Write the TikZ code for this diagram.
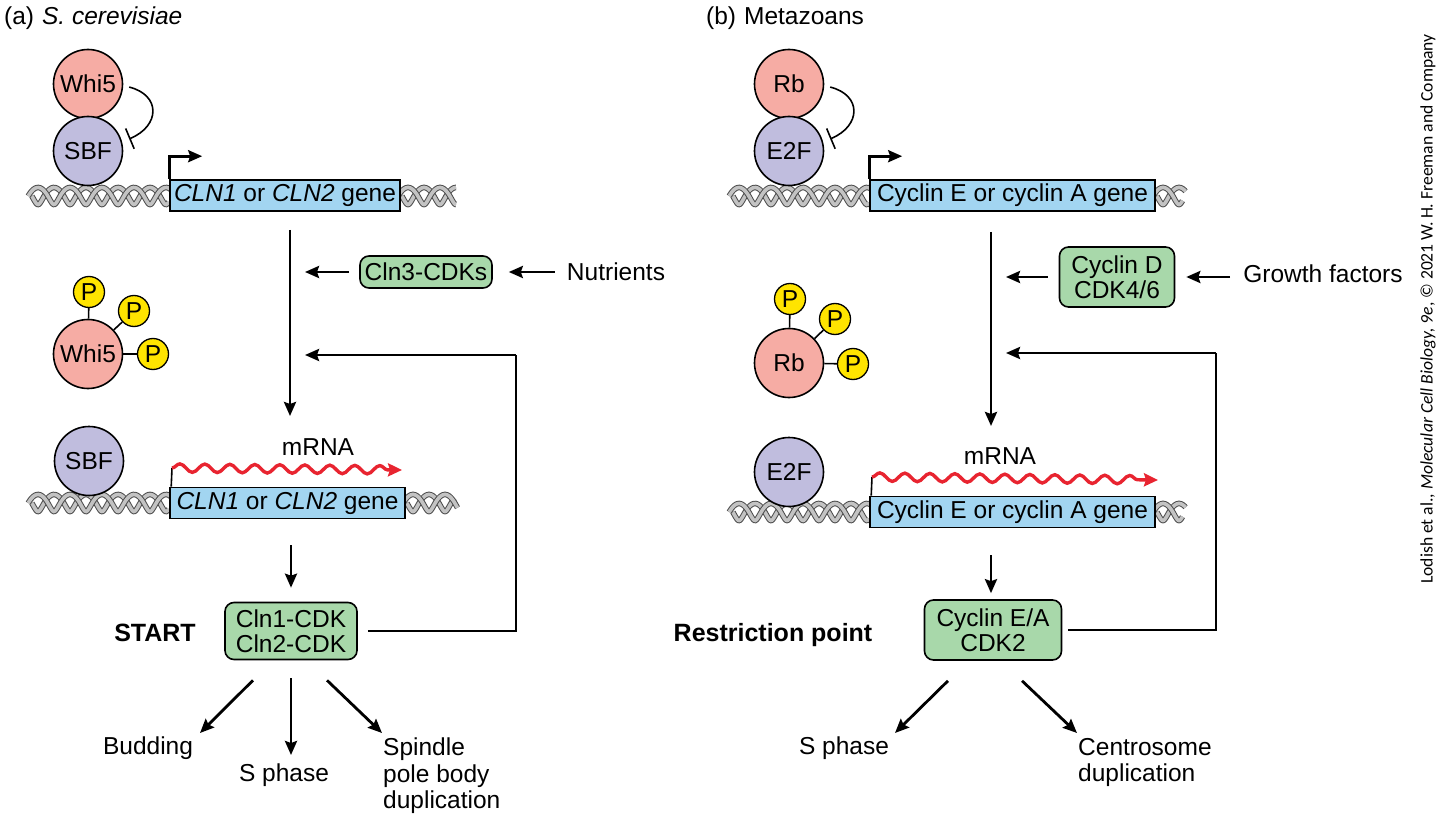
\documentclass[tikz,border=0pt]{standalone}
\usepackage{fontspec}
\setmainfont{Liberation Sans}
\newfontfamily\credfont{Carlito}
\usetikzlibrary{arrows.meta,decorations.pathmorphing,calc}
\definecolor{pinkc}{RGB}{246,172,164}
\definecolor{lavc}{RGB}{192,189,222}
\definecolor{genec}{RGB}{162,213,241}
\definecolor{greenc}{RGB}{168,216,170}
\definecolor{yelc}{RGB}{255,228,0}
\definecolor{redc}{RGB}{232,36,48}
\definecolor{helixc}{RGB}{195,195,195}
\newcommand\dnahelix[3]{%
  \foreach \ph/\sh in {0/1.8,180/-1.8}{%
    \draw[line width=5.6pt, black!70] plot[domain=#1:#2, samples=120, smooth] ({\x+\sh*cos(11.25*(\x-#1))},{#3+8.5*sin(11.25*(\x-#1)+\ph)});
    \draw[line width=3.6pt, helixc] plot[domain=#1:#2, samples=120, smooth] ({\x+\sh*cos(11.25*(\x-#1))},{#3+8.5*sin(11.25*(\x-#1)+\ph)});
  }}
\begin{document}
\begin{tikzpicture}[x=1pt,y=-1pt,
  font=\fontsize{24.5}{26.5}\selectfont,
  whi/.style={circle, draw=black, line width=1.6pt, fill=pinkc, minimum size=69pt, inner sep=0pt},
  sbf/.style={circle, draw=black, line width=1.6pt, fill=lavc, minimum size=69pt, inner sep=0pt},
  pc/.style={circle, draw=black, line width=1.3pt, fill=yelc, minimum size=31pt, inner sep=0pt},
  gene/.style={draw=black, line width=1.6pt, fill=genec, minimum height=31pt, inner sep=0pt},
  cdk/.style={draw=black, line width=1.6pt, fill=greenc, rounded corners=9pt, align=center, inner sep=3pt},
  arr/.style={line width=2.8pt, -{Stealth[length=14pt,width=12pt,inset=2pt]}},
  ln/.style={line width=2.8pt},
  thin/.style={line width=1.6pt},
  inh/.style={line width=1.6pt, -{Bar[width=22pt,line width=1.6pt]}},
  wave/.style={redc, line width=3.4pt, decorate, decoration={snake, amplitude=4.2pt, segment length=25pt, post length=12pt}, -{Stealth[length=14pt,width=13pt,inset=2pt]}},
  lbl/.style={inner sep=0pt},
  bold/.style={font=\fontsize{25}{26}\selectfont\bfseries}
]
\useasboundingbox (0,0) rectangle (1444,821);

% ===== Panel (a) =====
\node[lbl, anchor=west] (heada) at (4,18) {(a)\hspace{8pt}\textit{S. cerevisiae}};

\dnahelix{30}{170}{196}
\dnahelix{400}{456}{196}
\node[whi] (whi5) at (88,84) {Whi5};
\node[sbf] (sbf) at (88,151) {SBF};
\draw[inh] ([xshift=6pt]whi5.-5) .. controls +(32,8) and +(31,-13) .. ([xshift=8pt]sbf.20);
\node[gene, minimum width=230pt] (gene1) at (285,195.5) {\textit{CLN1} or \textit{CLN2} gene};
\draw[arr] (gene1.north west) -- ++(0,-23) -- ++(33,0);

\coordinate (va1) at (290,230);
\coordinate (vb1) at (290,416);
\draw[arr] (va1) -- (vb1);
\node[cdk, minimum width=132pt, minimum height=32pt] (cln3) at (426,272) {Cln3-CDKs};
\node[lbl] (nut) at (616,272) {Nutrients};
\coordinate (t1) at (305,272);
\draw[arr] ([xshift=-10pt]cln3.west) -- (t1);
\draw[arr] ([xshift=-12pt]nut.west) -- ([xshift=16pt]cln3.east);

\node[whi] (whi5p) at (88,354) {Whi5};
\node[pc] (pa1) at (89,292) {P};
\node[pc] (pa2) at (134,311) {P};
\node[pc] (pa3) at (153,354) {P};
\draw[thin] (whi5p) -- (pa1);
\draw[thin] (whi5p) -- (pa2);
\draw[thin] (whi5p) -- (pa3);

\dnahelix{30}{170}{503}
\dnahelix{405}{456}{503}
\node[sbf] (sbf2) at (89,461) {SBF};
\node[gene, minimum width=235pt] (gene2) at (287.5,503) {\textit{CLN1} or \textit{CLN2} gene};
\coordinate (ms1) at (172,468);
\coordinate (me1) at (402,470);
\draw[thin] ([xshift=2pt]gene2.north west) -- (ms1);
\draw[wave] (ms1) -- (me1);
\node[lbl] (mrna1) at (318,447) {mRNA};

\node[cdk, minimum width=132pt, minimum height=57pt] (cln12) at (291,631) {Cln1-CDK\\[-2pt]Cln2-CDK};
\coordinate (vc1) at (291,545);
\draw[arr] (vc1) -- ([yshift=14pt]cln12.north) ;
\node[lbl, bold] (start) at (155,633) {START};
\coordinate (fa1) at (516,355);
\coordinate (ft1) at (305,355);
\draw[ln] ([xshift=10pt]cln12.east) -| (fa1);
\draw[arr] (fa1) -- (ft1);

\draw[arr] ([xshift=-38pt,yshift=-20pt]cln12.south) -- (200,733);
\draw[arr] ([yshift=-18pt]cln12.south) -- (291,755);
\draw[arr] ([xshift=36pt,yshift=-20pt]cln12.south) -- (382,733);
\node[lbl] (bud) at (148,748) {Budding};
\node[lbl] (sph1) at (284,775) {S phase};
\node[lbl, anchor=north west, align=left] (spb) at (383,738) {Spindle\\pole body\\duplication};

% ===== Panel (b) =====
\node[lbl, anchor=west] (headb) at (706,18) {(b)\hspace{8pt}Metazoans};

\dnahelix{731}{870}{196}
\dnahelix{1155}{1184}{196}
\node[whi] (rb) at (789,84) {Rb};
\node[sbf] (e2f) at (789,151) {E2F};
\draw[inh] ([xshift=6pt]rb.-5) .. controls +(32,8) and +(31,-13) .. ([xshift=8pt]e2f.20);
\node[gene, minimum width=285pt] (gene3) at (1012.5,195.5) {Cyclin E or cyclin A gene};
\draw[arr] (gene3.north west) -- ++(0,-23) -- ++(33,0);

\coordinate (va2) at (991,232);
\coordinate (vb2) at (991,426);
\draw[arr] (va2) -- (vb2);
\node[cdk, minimum width=115pt, minimum height=60pt] (cycd) at (1117,277) {Cyclin D\\[-2pt]CDK4/6};
\node[lbl] (gf) at (1323,274) {Growth factors};
\coordinate (t2) at (1006,277);
\draw[arr] ([xshift=-11pt]cycd.west) -- (t2);
\draw[arr] ([xshift=-13pt]gf.west |- cycd.east) -- ([xshift=11pt]cycd.east);

\node[whi] (rbp) at (789,363) {Rb};
\node[pc] (pb1) at (790,299) {P};
\node[pc] (pb2) at (835,319) {P};
\node[pc] (pb3) at (853,364) {P};
\draw[thin] (rbp) -- (pb1);
\draw[thin] (rbp) -- (pb2);
\draw[thin] (rbp) -- (pb3);

\dnahelix{731}{870}{512}
\dnahelix{1155}{1184}{512}
\node[sbf] (e2f2) at (789,472) {E2F};
\node[gene, minimum width=285pt] (gene4) at (1012.5,512) {Cyclin E or cyclin A gene};
\coordinate (ms2) at (872,477);
\coordinate (me2) at (1158,480);
\draw[thin] ([xshift=2pt]gene4.north west) -- (ms2);
\draw[wave] (ms2) -- (me2);
\node[lbl] (mrna2) at (1000,456) {mRNA};

\node[cdk, minimum width=137pt, minimum height=60pt] (cyce) at (993,630) {Cyclin E/A\\[-2pt]CDK2};
\coordinate (vc2) at (991,555);
\draw[arr] (vc2) -- ([yshift=6pt]cyce.north -| vc2);
\node[lbl, bold] (rp) at (773,635) {Restriction point};
\coordinate (fa2) at (1216,353);
\coordinate (ft2) at (1006,353);
\draw[ln] ([xshift=6pt]cyce.east) -| (fa2);
\draw[arr] (fa2) -- (ft2);

\draw[arr] ([xshift=-45pt,yshift=-20pt]cyce.south) -- (895,733);
\draw[arr] ([xshift=29pt,yshift=-20pt]cyce.south) -- (1077,733);
\node[lbl] (sph2) at (844,748) {S phase};
\node[lbl, anchor=north west, align=left] (cen) at (1078,738) {Centrosome\\duplication};

% credit
\node[lbl, rotate=90, font=\credfont\fontsize{17.6}{18}\selectfont] (cred) at (1428,309) {Lodish et al., \textit{Molecular Cell Biology, 9e}, © 2021 W.\,H. Freeman and Company};
\end{tikzpicture}
\end{document}
